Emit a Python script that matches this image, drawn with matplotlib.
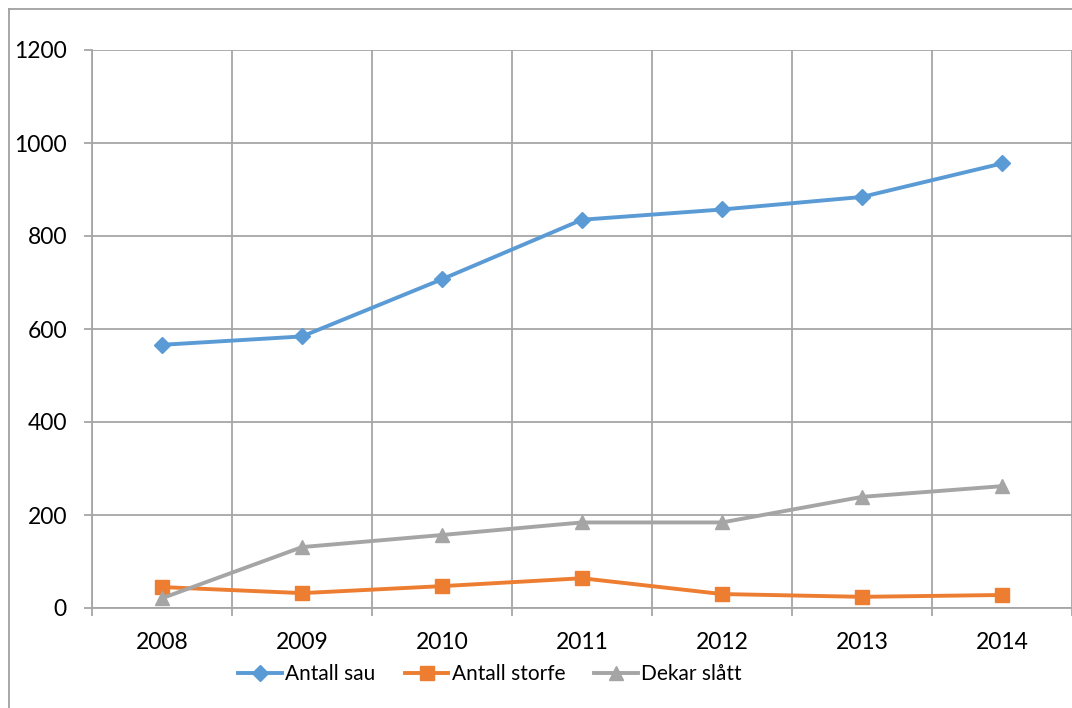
import matplotlib
matplotlib.use("Agg")
import matplotlib.pyplot as plt
from matplotlib.lines import Line2D

# datos
years = ["2008", "2009", "2010", "2011", "2012", "2013", "2014"]
antall_sau = [566, 584, 707, 835, 857, 884, 956]
antall_storfe = [45, 32, 47, 64, 30, 24, 28]
dekar_slatt = [21, 131, 157, 184, 184, 239, 262]
y_ticks = [0, 200, 400, 600, 800, 1000, 1200]

blue = "#5B9BD5"
orange = "#ED7D31"
gray = "#A5A5A5"
grid_col = "#A6A6A6"

plt.rcParams["font.family"] = ["Lato", "DejaVu Sans"]

W, H = 1072, 708
fig = plt.figure(figsize=(W / 100, H / 100), dpi=100)
ax = fig.add_axes([92 / W, (H - 608) / H, (1072 - 92) / W, 558 / H])

x = list(range(len(years)))
ax.plot(x, antall_sau, color=blue, lw=2.8, marker="D", ms=8,
        label="Antall sau", clip_on=False, zorder=3)
ax.plot(x, antall_storfe, color=orange, lw=2.8, marker="s", ms=9.5,
        label="Antall storfe", clip_on=False, zorder=3)
ax.plot(x, dekar_slatt, color=gray, lw=2.8, marker="^", ms=10,
        label="Dekar slått", clip_on=False, zorder=3)

# ejes
ax.set_xlim(-0.5, len(years) - 0.5)
ax.set_ylim(0, 1200)
ax.set_yticks(y_ticks)
ax.set_xticks(x)
ax.set_xticklabels(years)
ax.set_xticks([i - 0.5 for i in range(len(years) + 1)], minor=True)

ax.grid(axis="y", which="major", color=grid_col, lw=1.3)
ax.grid(axis="x", which="minor", color=grid_col, lw=1.3)
ax.set_axisbelow(True)

ax.tick_params(axis="x", which="major", length=0, pad=17, labelsize=16.5)
ax.tick_params(axis="x", which="minor", length=6, width=1.3, color=grid_col)
ax.tick_params(axis="y", length=6, width=1.3, color=grid_col, pad=12, labelsize=16.5)

for s in ["top", "right"]:
    ax.spines[s].set_visible(False)
for s in ["left", "bottom"]:
    ax.spines[s].set_color(grid_col)
    ax.spines[s].set_linewidth(1.3)

# borde del grafico
fig.add_artist(Line2D([9 / W, 9 / W], [0, 1 - 9 / H], color="#A0A0A0", lw=1.3))
fig.add_artist(Line2D([9 / W, 1], [1 - 9 / H, 1 - 9 / H], color="#A0A0A0", lw=1.3))

fig.legend(loc="center", bbox_to_anchor=(490 / W, 1 - 674 / H), ncol=3,
           frameon=False, fontsize=15, handlelength=2.1, handletextpad=0.15,
           columnspacing=1.4, borderaxespad=0)

fig.savefig("out.png", dpi=100)
